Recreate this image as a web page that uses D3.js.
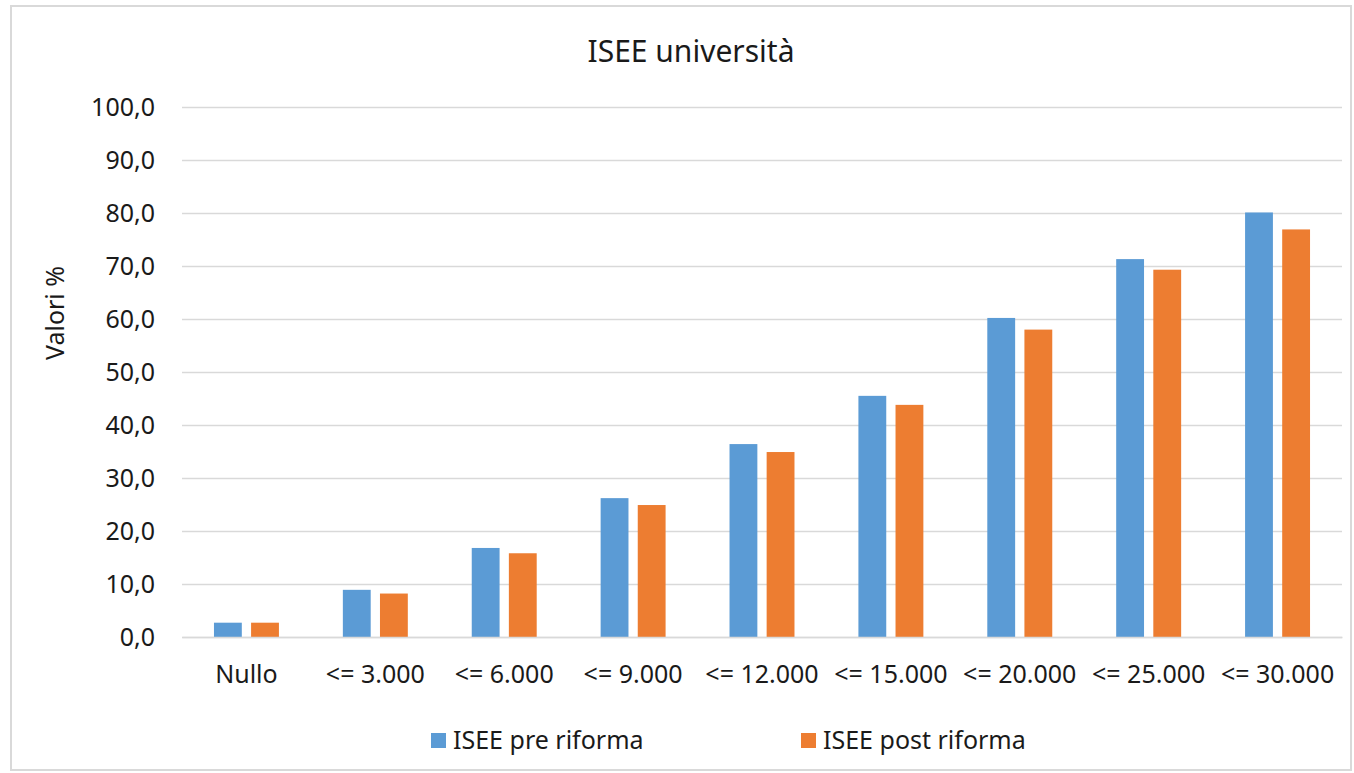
<!DOCTYPE html>
<html><head><meta charset="utf-8">
<script src="https://cdn.jsdelivr.net/npm/d3@7"></script>
<style>
html,body{margin:0;padding:0;background:#fff;}
svg text{font-family:"Noto Sans","Open Sans",sans-serif;fill:#1a1a1a;}
</style></head>
<body>
<svg id="chart" width="1354" height="773"></svg>
<script>
const categories = ["Nullo","<= 3.000","<= 6.000","<= 9.000","<= 12.000","<= 15.000","<= 20.000","<= 25.000","<= 30.000"];
const seriesNames = ["ISEE pre riforma","ISEE post riforma"];
const preRiforma = [2.7, 8.9, 16.8, 26.2, 36.4, 45.5, 60.2, 71.3, 80.1];
const postRiforma = [2.7, 8.2, 15.8, 24.9, 34.9, 43.8, 58.0, 69.3, 76.9];
const yTicks = [0,10,20,30,40,50,60,70,80,90,100];
const colors = ["#5B9BD5","#ED7D31"];

const svg = d3.select("#chart");
// outer border
svg.append("rect").attr("x",11).attr("y",6).attr("width",1340).attr("height",764)
  .attr("fill","#fff").attr("stroke","#d9d9d9").attr("stroke-width",2);

const m = {left:182, right:1342, top:107, bottom:637};
const x0 = d3.scaleBand().domain(categories).range([m.left,m.right]).paddingInner(0.496).paddingOuter(0.248);
const x1 = d3.scaleBand().domain(seriesNames).range([0,x0.bandwidth()]).paddingInner(0.25);
const y = d3.scaleLinear().domain([0,100]).range([m.bottom,m.top]);

// gridlines
const yAxis = d3.axisLeft(y).tickValues(yTicks).tickSize(-(m.right-m.left)).tickPadding(27)
  .tickFormat(d => d3.format(".1f")(d).replace(".", ","));
const gy = svg.append("g").attr("transform",`translate(${m.left},0)`).call(yAxis);
gy.select(".domain").remove();
gy.selectAll(".tick line").attr("stroke","#d9d9d9").attr("stroke-width",1.3);
gy.selectAll(".tick text").attr("font-size",25).style("fill","#1a1a1a");

// bars
const data = categories.map((c,i)=>({cat:c, vals:[preRiforma[i], postRiforma[i]]}));
const groups = svg.append("g").selectAll("g").data(data).join("g")
  .attr("transform",d=>`translate(${x0(d.cat)},0)`);
groups.selectAll("rect").data(d=>d.vals.map((v,j)=>({name:seriesNames[j],v,j}))).join("rect")
  .attr("x",d=>x1(d.name)).attr("width",x1.bandwidth())
  .attr("y",d=>y(d.v)).attr("height",d=>y(0)-y(d.v))
  .attr("fill",d=>colors[d.j]);

// x axis
const xAxis = d3.axisBottom(x0).tickSize(0).tickPadding(28);
const gx = svg.append("g").attr("transform",`translate(0,${m.bottom})`).call(xAxis);
gx.select(".domain").attr("stroke","#d9d9d9").attr("stroke-width",1.3);
gx.selectAll(".tick text").attr("font-size",25).style("fill","#1a1a1a");

// title
svg.append("text").attr("x",691).attr("y",62).attr("text-anchor","middle")
  .attr("font-size",30).text("ISEE università");

// y title
svg.append("text").attr("transform","translate(64,313) rotate(-90)").attr("text-anchor","middle")
  .attr("font-size",25).text("Valori %");

// legend
const legX = [431, 801];
const leg = svg.append("g").selectAll("g").data(seriesNames).join("g")
  .attr("transform",(d,i)=>`translate(${legX[i]},733)`);
leg.append("rect").attr("width",15).attr("height",15).attr("fill",(d,i)=>colors[i]);
leg.append("text").attr("x",22).attr("y",16).attr("font-size",25).text(d=>d);
</script>
</body></html>
